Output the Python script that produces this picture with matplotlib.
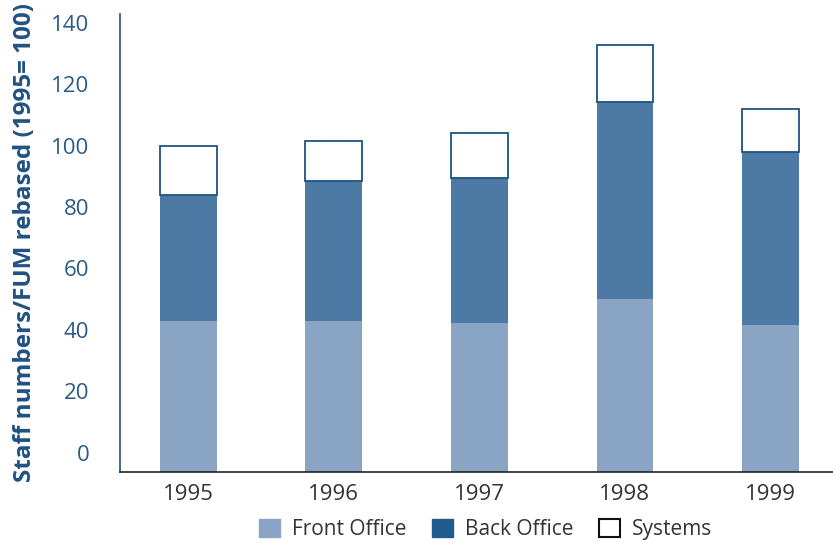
import numpy as np
import matplotlib
matplotlib.use("Agg")
import matplotlib.pyplot as plt
from matplotlib.patches import Patch

plt.rcParams["font.family"] = ["Open Sans", "DejaVu Sans"]

years = ["1995", "1996", "1997", "1998", "1999"]
front_office = [42.9, 42.9, 42.3, 50.2, 41.6]
back_office = [41.1, 45.7, 47.3, 63.9, 56.4]
systems = [16.0, 13.0, 14.6, 18.6, 14.1]

y_bottom = -6.3

front_col = "#8aa5c3"
back_col = "#4c7aa4"
edge_col = "#1f5283"
tick_col = "#2b5a87"

fig = plt.figure(figsize=(8.33, 5.43), dpi=100)
ax = fig.add_axes([0.144, 0.131, 0.856, 0.843])

x = np.arange(len(years))
w = 0.39
fo = np.array(front_office)
bo = np.array(back_office)
sy = np.array(systems)

# bars start at the bottom of the axis, not at zero
ax.bar(x, fo - y_bottom, w, bottom=y_bottom, color=front_col, linewidth=0)
ax.bar(x, bo, w, bottom=fo, color=back_col, linewidth=0)
ax.bar(x, sy, w, bottom=fo + bo, color="white", edgecolor=edge_col, linewidth=1.3)

ax.set_xlim(-0.47, 4.43)
ax.set_ylim(y_bottom, 142.9)
ax.set_yticks(np.arange(0, 141, 20))
ax.set_xticks(x)
ax.set_xticklabels(years)

ax.tick_params(axis="y", length=0, pad=22, labelsize=16, labelcolor=tick_col)
ax.tick_params(axis="x", length=0, pad=9, labelsize=16, labelcolor="#333333")

for s in ["top", "right"]:
    ax.spines[s].set_visible(False)
ax.spines["left"].set_color(edge_col)
ax.spines["bottom"].set_color("#222222")
ax.spines["left"].set_linewidth(1.2)
ax.spines["bottom"].set_linewidth(1.2)

ax.set_ylabel("Staff numbers/FUM rebased (1995= 100)", fontsize=17.5,
              fontweight="bold", color="#1f5283", labelpad=10)

handles = [
    Patch(facecolor=front_col, edgecolor=front_col, label="Front Office"),
    Patch(facecolor="#1f5b8c", edgecolor="#1f5b8c", label="Back Office"),
    Patch(facecolor="white", edgecolor="#111111", linewidth=1.5, label="Systems"),
]
leg = fig.legend(handles=handles, loc="center", bbox_to_anchor=(0.583, 0.025),
                 ncol=3, frameon=False, fontsize=15, handlelength=1.0,
                 handleheight=1.0, handletextpad=0.6, columnspacing=1.2)
for t in leg.get_texts():
    t.set_color("#333333")

fig.savefig("out.png", dpi=100)
